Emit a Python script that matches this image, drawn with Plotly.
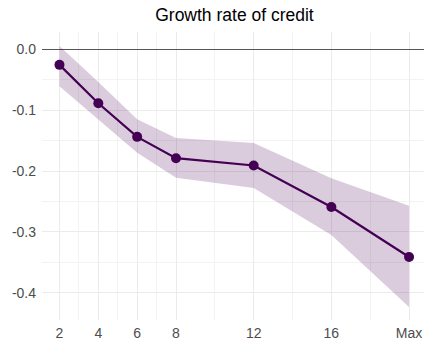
import plotly.graph_objects as go

horizons = [2, 4, 6, 8, 12, 16, 20]
tick_labels = ["2", "4", "6", "8", "12", "16", "Max"]
estimate = [-0.026, -0.089, -0.144, -0.179, -0.191, -0.259, -0.341]
upper = [0.005, -0.054, -0.115, -0.146, -0.154, -0.212, -0.257]
lower = [-0.061, -0.115, -0.170, -0.211, -0.228, -0.305, -0.423]
y_ticks = [0.0, -0.1, -0.2, -0.3, -0.4]
y_tick_labels = ["0.0", "-0.1", "-0.2", "-0.3", "-0.4"]
x_minor = [3, 5, 7, 10, 14, 18]
y_minor = [-0.05, -0.15, -0.25, -0.35]

purple = "#440154"
band = "rgba(68,1,84,0.2)"

fig = go.Figure()
fig.add_trace(go.Scatter(x=horizons, y=upper, mode="lines", line=dict(width=0),
                         showlegend=False, hoverinfo="skip"))
fig.add_trace(go.Scatter(x=horizons, y=lower, mode="lines", line=dict(width=0),
                         fill="tonexty", fillcolor=band, showlegend=False, hoverinfo="skip"))
fig.add_trace(go.Scatter(x=horizons, y=estimate, mode="lines+markers",
                         line=dict(color=purple, width=2.2),
                         marker=dict(color=purple, size=10),
                         showlegend=False))

fig.update_layout(
    width=424, height=340,
    margin=dict(l=42, r=0, t=32, b=20),
    paper_bgcolor="white", plot_bgcolor="white",
    font=dict(family="Liberation Sans, Arial, sans-serif", color="#4d4d4d", size=14),
    title=dict(text="Growth rate of credit", x=0.553, xanchor="center",
               y=0.955, yanchor="middle",
               font=dict(size=17.5, color="black")),
)
fig.update_xaxes(
    range=[1.1, 20.77], tickmode="array", tickvals=horizons, ticktext=tick_labels,
    showgrid=True, gridcolor="#ebebeb", gridwidth=1.1,
    minor=dict(tickmode="array", tickvals=x_minor, showgrid=True,
               gridcolor="#f3f3f3", gridwidth=1),
    zeroline=False, showline=False, ticks="", ticklen=0, ticklabelstandoff=3,
    tickfont=dict(size=14, color="#4d4d4d"),
)
fig.update_yaxes(
    range=[-0.4443, 0.0279], tickmode="array", tickvals=y_ticks, ticktext=y_tick_labels,
    showgrid=True, gridcolor="#ebebeb", gridwidth=1.1,
    minor=dict(tickmode="array", tickvals=y_minor, showgrid=True,
               gridcolor="#f3f3f3", gridwidth=1),
    zeroline=True, zerolinecolor="#555555", zerolinewidth=1.2,
    showline=False, ticks="", ticklen=0, ticklabelstandoff=5,
    tickfont=dict(size=14, color="#4d4d4d"),
)

fig.write_html("out.html")
